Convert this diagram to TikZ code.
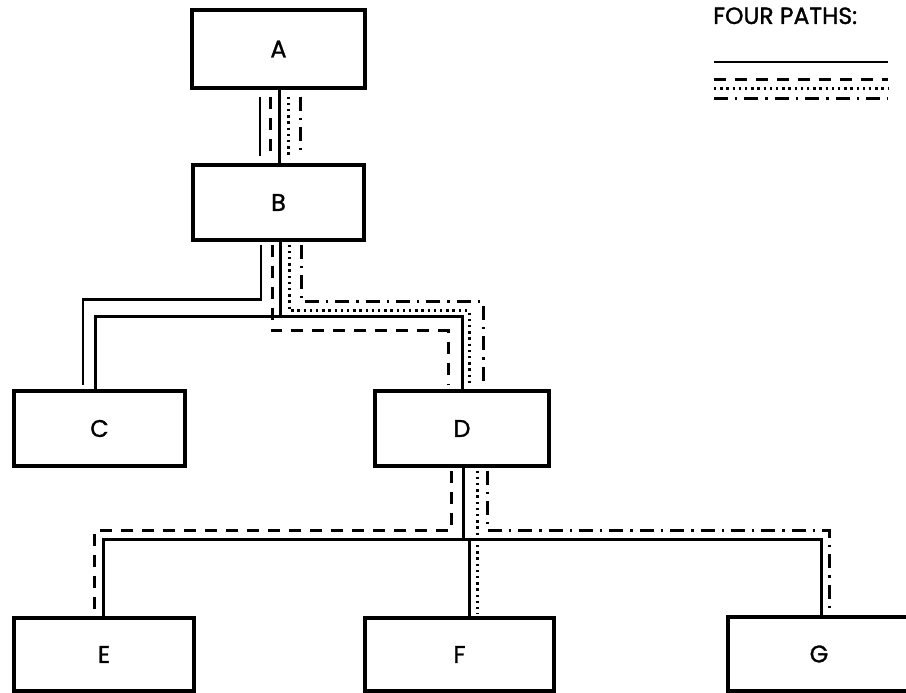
\documentclass[tikz,border=0pt]{standalone}
\usepackage{fontspec}
\setmainfont{Poppins}
\newfontfamily\lblfont{Poppins}[FakeBold=1.2]
\begin{document}
\begin{tikzpicture}[x=1pt,y=-1pt,
  box/.style={draw,line width=3.2pt,rectangle,inner sep=0pt,font=\lblfont\fontsize{24}{28}\selectfont},
  tree/.style={line width=3pt},
  psolid/.style={line width=2.8pt},
  pdash/.style={line width=3pt,dash pattern=on 12pt off 9pt},
  pdot/.style={line width=3pt,dash pattern=on 2.4pt off 3.8pt},
  pdashdot/.style={line width=3pt,dash pattern=on 14pt off 7pt on 2.4pt off 7pt},
  legtext/.style={font=\lblfont\fontsize{23.5}{26}\selectfont,inner sep=0pt,anchor=base west}]
\useasboundingbox (0,0) rectangle (906,693);
\clip (0,0) rectangle (906,693);
% boxes
\node[box,minimum width=173pt,minimum height=78pt] (A) at (278.5,49) {A};
\node[box,minimum width=171pt,minimum height=75pt] (B) at (278.5,202.5) {B};
\node[box,minimum width=171pt,minimum height=75pt] (C) at (99.5,428.5) {C};
\node[box,minimum width=174pt,minimum height=75pt] (D) at (462,428.5) {D};
\node[box,minimum width=180pt,minimum height=73pt] (E) at (104,654.5) {E};
\node[box,minimum width=189pt,minimum height=73pt] (F) at (459.5,654.5) {F};
\node[box,minimum width=182pt,minimum height=74pt] (G) at (819,654) {G};
% legend
\node[legtext] (L) at (713,24) {FOUR PATHS:};
\coordinate (l1a) at (714,62);  \coordinate (l1b) at (888,62);
\coordinate (l2a) at (714,80);  \coordinate (l2b) at (888,80);
\coordinate (l3a) at (714,89);  \coordinate (l3b) at (888,89);
\coordinate (l4a) at (714,99);  \coordinate (l4b) at (888,99);
\draw[psolid] (l1a) -- (l1b);
\draw[pdash] (l2a) -- (l2b);
\draw[pdot] (l3a) -- (l3b);
\draw[pdashdot] (l4a) -- (l4b);
% junction levels
\coordinate (jB) at (0,316);
\coordinate (jD) at (0,539);
% tree: A - B
\draw[tree] ([xshift=1]A.south) -- ([xshift=1]B.north);
% tree: B - C, D
\draw[tree] ([xshift=1.5]B.south) -- ([xshift=1.5]B.south |- jB);
\draw[tree] ([xshift=-4.5]C.north) |- (D.north |- jB) -- (D.north);
% tree: D - E, F, G
\draw[tree] ([xshift=1]D.south) -- ([xshift=1]D.south |- jD);
\draw[tree] ([xshift=-1]E.north) |- ([xshift=2]G.north |- jD) -- ([xshift=2]G.north);
\draw[tree] ([xshift=9.5]F.north) -- ([xshift=9.5]F.north |- jD);
% path lines between A and B
\draw[psolid] ([xshift=-18.5,yshift=-7]A.south) -- ([xshift=-18.5,yshift=7]B.north);
\draw[pdash] ([xshift=-8.5,yshift=-7]A.south) -- ([xshift=-8.5,yshift=7]B.north);
\draw[pdot] ([xshift=9.5,yshift=-7]A.south) -- ([xshift=9.5,yshift=7]B.north);
\draw[pdashdot] ([xshift=21.5,yshift=-7]A.south) -- ([xshift=21.5,yshift=7]B.north);
% solid path: B -> C
\draw[psolid] ([xshift=-17.5,yshift=-3]B.south) -- ++(0,55) -| ([xshift=-16.5,yshift=4]C.north);
% dashed path: B -> D -> E
\draw[pdash] ([xshift=-6.5,yshift=-3]B.south) -- ++(0,86) -| ([xshift=-14,yshift=4]D.north);
\draw[pdash] ([xshift=-11,yshift=-3]D.south) -- ++(0,60) -| ([xshift=-10,yshift=2]E.north);
% dotted path: B -> D -> F
\draw[pdot] ([xshift=10.5,yshift=-3]B.south) -- ++(0,66) -| ([xshift=7,yshift=4]D.north);
\draw[pdot] ([xshift=15,yshift=-3]D.south) -- ([xshift=17.5,yshift=2]F.north);
% dash-dot path: B -> D -> G
\draw[pdashdot] ([xshift=22.5,yshift=-3]B.south) -- ++(0,57) -| ([xshift=21,yshift=4]D.north);
\draw[pdashdot] ([xshift=25,yshift=-3]D.south) -- ++(0,60) -| ([xshift=10,yshift=2]G.north);
\end{tikzpicture}
\end{document}
